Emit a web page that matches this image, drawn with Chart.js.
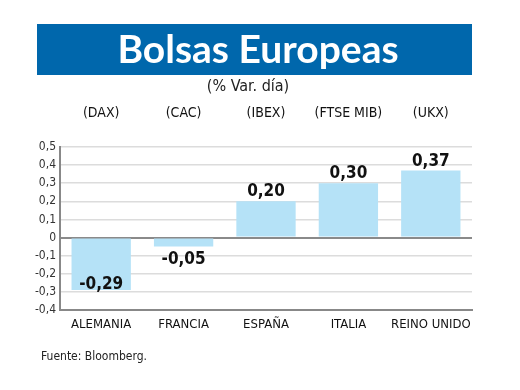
<!DOCTYPE html>
<html>
<head>
<meta charset="utf-8">
<script src="https://cdn.jsdelivr.net/npm/chart.js@4.4.0/dist/chart.umd.min.js"></script>
<style>
  body { margin: 0; background: #fff; }
  #graph1 { display: block; }
</style>
</head>
<body>
<canvas id="graph1" width="520" height="390"></canvas>
<script>
var paises = ['ALEMANIA', 'FRANCIA', 'ESPAÑA', 'ITALIA', 'REINO UNIDO'];
var indices = ['(DAX)', '(CAC)', '(IBEX)', '(FTSE MIB)', '(UKX)'];
var variacion = [-0.29, -0.05, 0.20, 0.30, 0.37];
var titulo = 'Bolsas Europeas';
var subtitulo = '(% Var. día)';
var fuente = 'Fuente: Bloomberg.';

var NARROW = '"Liberation Sans Narrow", "DejaVu Sans Condensed", "Roboto Condensed", sans-serif';

function coma(v, d) {
    return v.toFixed(d).replace('.', ',');
}

// banner, subtitle and source
var marco = {
    id: 'marco',
    beforeDraw: function (chart) {
        var ctx = chart.ctx;
        ctx.save();
        ctx.fillStyle = '#fff';
        ctx.fillRect(0, 0, chart.width, chart.height);
        ctx.fillStyle = '#0067ac';
        ctx.fillRect(37, 24, 435, 51);
        ctx.fillStyle = '#fff';
        ctx.font = 'bold 39px Lato, "Open Sans", sans-serif';
        ctx.textAlign = 'center';
        ctx.textBaseline = 'alphabetic';
        ctx.fillText(titulo, 258, 63);
        ctx.fillStyle = '#222';
        ctx.font = '16px ' + NARROW;
        ctx.fillText(subtitulo, 248, 91);
        ctx.textAlign = 'left';
        ctx.font = '12px ' + NARROW;
        ctx.fillText(fuente, 41, 360);
        ctx.restore();
    }
};

// value labels on the bars
var etiquetas = {
    id: 'etiquetas',
    afterDatasetsDraw: function (chart) {
        var ctx = chart.ctx;
        var meta = chart.getDatasetMeta(0);
        var bottom = chart.chartArea.bottom;
        ctx.save();
        ctx.fillStyle = '#111';
        ctx.font = 'bold 17px ' + NARROW;
        ctx.textAlign = 'center';
        ctx.textBaseline = 'alphabetic';
        meta.data.forEach(function (bar, i) {
            var v = variacion[i];
            var y;
            if (v >= 0) {
                y = bar.y - 5;
            } else if (bar.y + 20 < bottom - 2) {
                y = bar.y + 17;
            } else {
                y = bar.y - 1;
            }
            ctx.fillText(coma(v, 2), bar.x, y);
        });
        ctx.restore();
    }
};

var context = document.getElementById('graph1').getContext('2d');
var chart = new Chart(context, {
    type: 'bar',
    data: {
        labels: paises,
        datasets: [{
            data: variacion,
            backgroundColor: '#b5e2f7',
            borderWidth: 0,
            barPercentage: 0.72,
            categoryPercentage: 1
        }]
    },
    options: {
        responsive: false,
        animation: false,
        devicePixelRatio: 1,
        layout: { padding: { left: 0, right: 48, top: 0, bottom: 0 } },
        plugins: {
            legend: { display: false },
            tooltip: { enabled: false }
        },
        scales: {
            x: {
                position: 'bottom',
                afterFit: function (s) { s.height = 80; },
                grid: { display: false, drawTicks: false },
                border: { color: '#888', width: 2 },
                ticks: {
                    padding: 7,
                    maxRotation: 0,
                    minRotation: 0,
                    autoSkip: false,
                    color: '#111',
                    font: { family: NARROW, size: 13 }
                }
            },
            x2: {
                type: 'category',
                position: 'top',
                labels: indices,
                afterFit: function (s) { s.height = 147; },
                grid: { display: false, drawTicks: false },
                border: { display: false },
                ticks: {
                    padding: 25,
                    maxRotation: 0,
                    minRotation: 0,
                    autoSkip: false,
                    color: '#111',
                    font: { family: NARROW, size: 14 }
                }
            },
            y: {
                min: -0.4,
                max: 0.5,
                afterFit: function (s) { s.width = 60; },
                grid: {
                    drawTicks: false,
                    color: function (c) { return c.tick.value === 0 ? '#8a8a8a' : '#dcdcdc'; },
                    lineWidth: function (c) { return c.tick.value === 0 ? 2 : 1.5; }
                },
                border: { color: '#888', width: 2 },
                ticks: {
                    stepSize: 0.1,
                    padding: 4,
                    color: '#333',
                    font: { family: NARROW, size: 12 },
                    callback: function (v) {
                        var r = Math.round(v * 10) / 10;
                        return r === 0 ? '0' : coma(r, 1);
                    }
                }
            }
        }
    },
    plugins: [marco, etiquetas]
});
</script>
</body>
</html>
